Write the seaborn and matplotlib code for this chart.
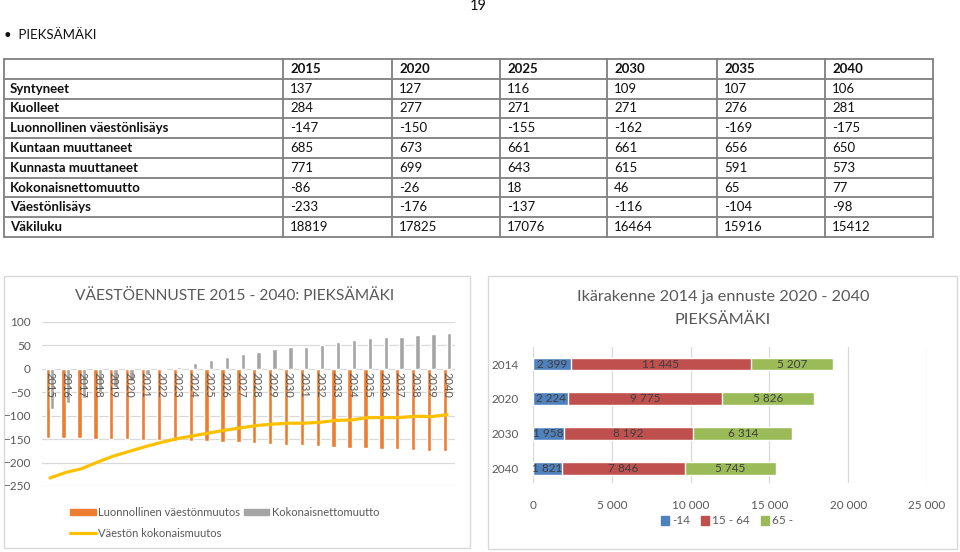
import numpy as np
import pandas as pd
import matplotlib
matplotlib.use("Agg")
import matplotlib.pyplot as plt
import seaborn as sns
from matplotlib.patches import Rectangle, Patch
from matplotlib.lines import Line2D

# ---------------- data ----------------
table_cols = ["2015", "2020", "2025", "2030", "2035", "2040"]
table_rows = ["Syntyneet", "Kuolleet", "Luonnollinen väestönlisäys", "Kuntaan muuttaneet",
              "Kunnasta muuttaneet", "Kokonaisnettomuutto", "Väestönlisäys", "Väkiluku"]
syntyneet = [137, 127, 116, 109, 107, 106]
kuolleet = [284, 277, 271, 271, 276, 281]
luonn_lisays = [-147, -150, -155, -162, -169, -175]
kuntaan = [685, 673, 661, 661, 656, 650]
kunnasta = [771, 699, 643, 615, 591, 573]
nettomuutto = [-86, -26, 18, 46, 65, 77]
vaestonlisays = [-233, -176, -137, -116, -104, -98]
vakiluku = [18819, 17825, 17076, 16464, 15916, 15412]

years = [str(y) for y in range(2015, 2041)]
luonnollinen = [-147, -147, -148, -149, -149, -150, -151, -152, -153, -154, -155, -156, -157, -159,
                -160, -162, -163, -164, -166, -168, -169, -170, -172, -173, -175, -175]
kokonaisnetto = [-86, -72, -62, -50, -38, -26, -14, -3, 5, 12, 18, 25, 31, 37,
                 42, 46, 47, 51, 57, 61, 65, 67, 69, 73, 74, 77]
kokonaismuutos = [-233, -221, -213, -199, -186, -176, -166, -157, -149, -143, -137, -131, -126, -121,
                  -118, -116, -116, -114, -110, -109, -104, -104, -104, -101, -102, -98]

age_years = ["2014", "2020", "2030", "2040"]
age_0_14 = [2399, 2224, 1958, 1821]
age_15_64 = [11445, 9775, 8192, 7846]
age_65 = [5207, 5826, 6314, 5745]

# ---------------- style ----------------
sns.set_theme(style="white")
plt.rcParams["font.family"] = ["Lato", "DejaVu Sans"]

W, H = 960, 552
fig = plt.figure(figsize=(9.6, 5.52), dpi=100)
bg = fig.add_axes([0, 0, 1, 1])
bg.set_xlim(0, W)
bg.set_ylim(H, 0)
bg.axis("off")


def rect(x0, y0, x1, y1):
    return [x0 / W, 1 - y1 / H, (x1 - x0) / W, (y1 - y0) / H]


TXT = "#111111"
GREYTXT = "#595959"

# page header
bg.text(478, 6, "19", ha="center", va="center", fontsize=10.5, color=TXT)
bg.text(4, 35, "•  PIEKSÄMÄKI", ha="left", va="center", fontsize=9.5, color=TXT)

# ---------------- table ----------------
col_x = [4, 283, 392, 500, 607, 717, 825, 933]
top, bottom = 59, 237
nrows = 9
row_h = (bottom - top) / nrows
for i in range(nrows + 1):
    y = top + i * row_h
    bg.plot([col_x[0], col_x[-1]], [y, y], color="#7f7f7f", lw=1.3)
for x in col_x:
    bg.plot([x, x], [top, bottom], color="#7f7f7f", lw=1.3)

values = [syntyneet, kuolleet, luonn_lisays, kuntaan, kunnasta, nettomuutto, vaestonlisays, vakiluku]
for j, c in enumerate(table_cols):
    bg.text(col_x[j + 1] + 7, top + row_h / 2, c, ha="left", va="center",
            fontsize=9.5, fontweight="bold", color=TXT)
for i, (lab, vals) in enumerate(zip(table_rows, values)):
    yc = top + (i + 1.5) * row_h
    bg.text(col_x[0] + 6, yc, lab, ha="left", va="center", fontsize=9.5,
            fontweight="bold", color=TXT)
    for j, v in enumerate(vals):
        bg.text(col_x[j + 1] + 7, yc, str(v), ha="left", va="center", fontsize=9.5, color=TXT)

# panel borders
bg.add_patch(Rectangle((4, 276), 466, 272, fill=False, ec="#d9d9d9", lw=1))
bg.add_patch(Rectangle((488, 276), 469, 273, fill=False, ec="#d9d9d9", lw=1))

# ---------------- left chart ----------------
ORANGE, GREY, YELLOW = "#ED7D31", "#A5A5A5", "#FFC000"
ax = fig.add_axes(rect(42, 322, 455, 486))
df = pd.DataFrame({
    "Vuosi": years * 2,
    "Arvo": luonnollinen + kokonaisnetto,
    "Sarja": ["Luonnollinen väestönmuutos"] * len(years) + ["Kokonaisnettomuutto"] * len(years),
})
sns.barplot(data=df, x="Vuosi", y="Arvo", hue="Sarja", palette=[ORANGE, GREY],
            width=0.55, gap=0, dodge=True, ax=ax, legend=False, saturation=1, zorder=2)
sns.lineplot(x=np.arange(len(years)), y=kokonaismuutos, ax=ax, color=YELLOW, lw=2.3, zorder=4)
ax.set_xlim(-0.5, len(years) - 0.5)
ax.set_ylim(-250, 100)
ax.set_yticks([100, 50, 0, -50, -100, -150, -200, -250])
ax.yaxis.grid(True, color="#d9d9d9", lw=0.9)
ax.set_axisbelow(True)
ax.set_xticks([])
ax.set_xlabel("")
ax.set_ylabel("")
for s in ax.spines.values():
    s.set_visible(False)
ax.tick_params(axis="y", length=0, pad=8, labelsize=8.5, labelcolor=GREYTXT)
for i, y in enumerate(years):
    ax.annotate(y, (i, 0), xytext=(0, -2), textcoords="offset points", rotation=-90,
                ha="center", va="top", fontsize=8, color=GREYTXT, zorder=5)

bg.text(235, 296, "VÄESTÖENNUSTE 2015 - 2040: PIEKSÄMÄKI", ha="center", va="center",
        fontsize=11.2, color=GREYTXT)
handles = [Patch(color=ORANGE), Line2D([0], [0], color=YELLOW, lw=2.3), Patch(color=GREY)]
labels = ["Luonnollinen väestönmuutos", "Väestön kokonaismuutos", "Kokonaisnettomuutto"]
leg = bg.legend(handles, labels, ncol=2, loc="upper left", bbox_to_anchor=(60, 497),
                bbox_transform=bg.transData, frameon=False, fontsize=8, handlelength=2.3,
                handleheight=0.5, handletextpad=0.25, columnspacing=0.3, labelspacing=0.9)
for t in leg.get_texts():
    t.set_color(GREYTXT)

# ---------------- right chart ----------------
BLUE, RED, GREEN = "#4F81BD", "#C0504D", "#9BBB59"
ax2 = fig.add_axes(rect(533, 347, 927, 483))
cum1 = np.array(age_0_14)
cum2 = cum1 + np.array(age_15_64)
cum3 = cum2 + np.array(age_65)
for vals, col in [(cum3, GREEN), (cum2, RED), (cum1, BLUE)]:
    sns.barplot(x=vals, y=age_years, orient="h", color=col, width=0.37, saturation=1,
                ax=ax2, zorder=2)
ax2.set_xlim(0, 25000)
ax2.set_ylim(3.42, -0.49)
ax2.set_xticks([0, 5000, 10000, 15000, 20000, 25000])
ax2.set_xticklabels(["0", "5 000", "10 000", "15 000", "20 000", "25 000"])
ax2.xaxis.grid(True, color="#d9d9d9", lw=0.9)
ax2.set_axisbelow(True)
for s in ax2.spines.values():
    s.set_visible(False)
ax2.tick_params(axis="x", length=0, pad=12, labelsize=8.5, labelcolor=GREYTXT)
ax2.tick_params(axis="y", length=0, pad=10, labelsize=8.5, labelcolor=GREYTXT)
ax2.set_xlabel("")
ax2.set_ylabel("")


def fmt(v):
    return f"{v:,}".replace(",", " ")


for i in range(len(age_years)):
    segs = [(0, cum1[i], age_0_14[i]), (cum1[i], cum2[i], age_15_64[i]), (cum2[i], cum3[i], age_65[i])]
    for a, b, v in segs:
        ax2.text((a + b) / 2, i, fmt(v), ha="center", va="center", fontsize=8.5,
                 color="#404040", zorder=5)

bg.text(723, 297, "Ikärakenne 2014 ja ennuste 2020 - 2040", ha="center", va="center",
        fontsize=11.7, color=GREYTXT)
bg.text(723, 320, "PIEKSÄMÄKI", ha="center", va="center", fontsize=11.7, color=GREYTXT)
h2 = [Patch(color=BLUE), Patch(color=RED), Patch(color=GREEN)]
leg2 = bg.legend(h2, ["-14", "15 - 64", "65 -"], ncol=3, loc="center", bbox_to_anchor=(727, 521),
                 bbox_transform=bg.transData, frameon=False, fontsize=8.5, handlelength=0.7,
                 handleheight=0.7, handletextpad=0.25, columnspacing=0.9)
for t in leg2.get_texts():
    t.set_color(GREYTXT)
bg.add_artist(leg)

fig.savefig("out.png", dpi=100)
